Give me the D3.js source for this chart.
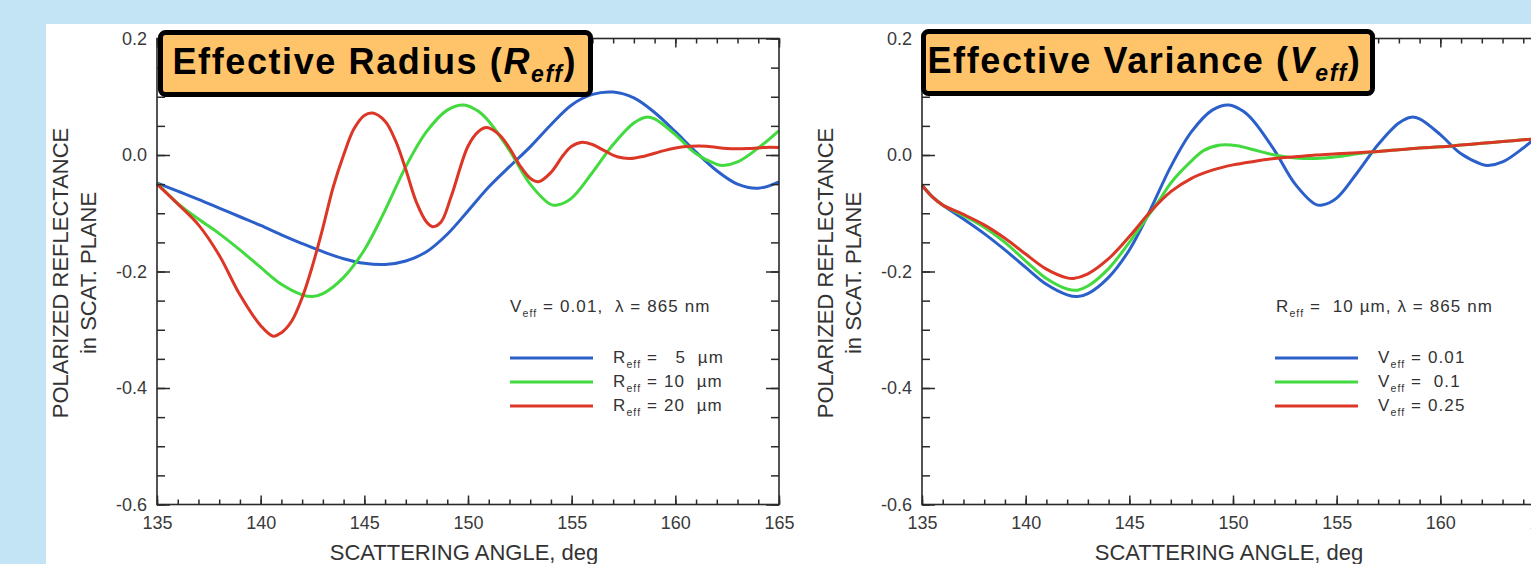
<!DOCTYPE html>
<html>
<head>
<meta charset="utf-8">
<script src="https://cdn.jsdelivr.net/npm/d3@7"></script>
<style>
  html, body { margin: 0; padding: 0; background: #c2e4f4; }
  svg { display: block; }
  text { font-family: "Liberation Sans", Arial, Helvetica, sans-serif; }
</style>
</head>
<body>
<svg id="chart" width="1531" height="564"></svg>
<script>
// ---- axis ticks ----
const angleTicks = [135, 140, 145, 150, 155, 160, 165];
const valueTicks = [0.2, 0.0, -0.2, -0.4, -0.6];
const valueTickLabels = ["0.2", "0.0", "-0.2", "-0.4", "-0.6"];

// ---- polarized reflectance vs scattering angle, V_eff = 0.01 ----
const reff5 = [[135,-0.048],[136,-0.062],[137,-0.076],[138,-0.091],[139,-0.106],[140,-0.121],[141,-0.137],[142,-0.152],[143,-0.166],[144,-0.178],[145,-0.186],[146,-0.188],[147,-0.182],[148,-0.166],[149,-0.136],[150,-0.096],[151,-0.055],[152,-0.02],[153,0.014],[154,0.052],[155,0.086],[156,0.104],[157,0.108],[158,0.098],[159,0.073],[160,0.04],[161,0.005],[162,-0.027],[163,-0.05],[164,-0.057],[165,-0.046]];
const reff10 = [[135,-0.048],[136,-0.083],[137,-0.11],[138,-0.135],[139,-0.163],[140,-0.193],[141,-0.222],[142,-0.24],[142.5,-0.243],[143,-0.238],[144,-0.21],[145,-0.163],[146,-0.095],[147,-0.02],[148,0.04],[149,0.077],[149.8,0.086],[150.5,0.075],[151,0.058],[152,0.008],[153,-0.05],[154,-0.085],[154.3,-0.086],[155,-0.074],[156,-0.03],[157,0.018],[158,0.055],[158.6,0.065],[159,0.062],[160,0.035],[161,0.002],[162,-0.016],[162.3,-0.018],[163,-0.012],[164,0.012],[165,0.042]];
const reff20 = [[135,-0.05],[136,-0.084],[137,-0.12],[138,-0.172],[139,-0.24],[140,-0.293],[140.6,-0.311],[141,-0.305],[141.5,-0.285],[142,-0.245],[142.5,-0.19],[143,-0.125],[143.5,-0.055],[144,0.0],[144.5,0.045],[145,0.068],[145.4,0.072],[146,0.058],[146.5,0.025],[147,-0.025],[147.5,-0.08],[148,-0.115],[148.3,-0.123],[148.7,-0.115],[149.2,-0.07],[150,0.015],[150.5,0.04],[150.9,0.047],[151.5,0.035],[152,0.012],[152.5,-0.018],[153,-0.04],[153.4,-0.046],[154,-0.03],[154.6,0.0],[155,0.015],[155.5,0.022],[156,0.018],[156.6,0.007],[157.2,-0.003],[157.8,-0.006],[158.5,-0.002],[159.5,0.008],[160.4,0.014],[161.5,0.015],[162.5,0.011],[163.5,0.011],[164.3,0.013],[165,0.013]];

// ---- polarized reflectance vs scattering angle, R_eff = 10 µm ----
const veff001 = [[135,-0.052],[135.5,-0.072],[136,-0.086],[137,-0.11],[138,-0.135],[139,-0.163],[140,-0.193],[141,-0.222],[142,-0.24],[142.5,-0.243],[143,-0.238],[144,-0.21],[145,-0.163],[146,-0.095],[147,-0.02],[148,0.04],[149,0.077],[149.8,0.086],[150.5,0.075],[151,0.058],[152,0.008],[153,-0.05],[154,-0.085],[154.3,-0.086],[155,-0.074],[156,-0.03],[157,0.018],[158,0.055],[158.6,0.065],[159,0.062],[160,0.035],[161,0.002],[162,-0.016],[162.3,-0.018],[163,-0.012],[164,0.012],[165,0.042]];
const veff01 = [[135,-0.052],[135.5,-0.072],[136,-0.086],[137,-0.104],[138,-0.124],[139,-0.15],[140,-0.182],[141,-0.212],[142,-0.23],[142.5,-0.232],[143,-0.225],[144,-0.195],[145,-0.15],[146,-0.1],[146.5,-0.075],[147,-0.048],[148,-0.01],[148.6,0.008],[149.4,0.017],[150.2,0.016],[151,0.009],[152,0.0],[153,-0.005],[154,-0.006],[155,-0.003],[156,0.002],[157,0.006],[158,0.009],[159,0.012],[160,0.014],[161,0.017],[162,0.02],[163,0.023],[164,0.026],[165,0.029]];
const veff025 = [[135,-0.052],[135.5,-0.072],[136,-0.086],[137,-0.102],[138,-0.12],[139,-0.143],[140,-0.17],[141,-0.196],[142,-0.211],[142.3,-0.212],[143,-0.204],[144,-0.178],[145,-0.14],[146,-0.098],[147,-0.063],[148,-0.04],[149,-0.026],[150,-0.017],[151,-0.011],[152,-0.006],[153,-0.003],[154,0.0],[155,0.002],[156,0.004],[157,0.006],[158,0.009],[159,0.012],[160,0.014],[161,0.017],[162,0.02],[163,0.023],[164,0.026],[165,0.029]];

// ---- legend texts ----
const radiusLabels = ["  5", "10", "20"];
const varianceLabels = ["0.01", " 0.1", "0.25"];
const seriesColors = ["#2b5fca", "#43da3f", "#db3626"];

const svg = d3.select("#chart");
svg.append("rect").attr("x", 46).attr("y", 24).attr("width", 1531 - 46).attr("height", 564 - 24).attr("fill", "#ffffff");

function richText(parent, x, y, parts, size, attrs = {}) {
  const t = parent.append("text").attr("x", x).attr("y", y).attr("font-size", size)
    .style("white-space", "pre");
  Object.entries(attrs).forEach(([k, v]) => t.attr(k, v));
  let shifted = 0;
  parts.forEach(p => {
    const s = t.append("tspan").text(p.t);
    const target = p.sub ? p.shift : 0;
    if (target !== shifted) { s.attr("dy", target - shifted); shifted = target; }
    if (p.size) s.attr("font-size", p.size);
    if (p.italic) s.attr("font-style", "italic");
  });
  return t;
}

function drawPanel(cfg) {
  const x = d3.scaleLinear().domain([135, 165]).range([cfg.left, cfg.left + 622]);
  const y = d3.scaleLinear().domain([-0.6, 0.2]).range([504.5, 38.5]);
  const g = svg.append("g");
  const ink = "#2a2a2a";

  // curves
  const line = d3.line().x(d => x(d[0])).y(d => y(d[1])).curve(d3.curveCatmullRom.alpha(0.5));
  cfg.series.forEach((s, i) => {
    g.append("path").datum(s).attr("d", line).attr("fill", "none")
      .attr("stroke", seriesColors[i]).attr("stroke-width", 3).attr("stroke-linejoin", "round");
  });

  // frame
  g.append("rect").attr("x", x(135)).attr("y", y(0.2)).attr("width", x(165) - x(135))
    .attr("height", y(-0.6) - y(0.2)).attr("fill", "none").attr("stroke", ink).attr("stroke-width", 1.6);

  const minorX = d3.range(135, 166, 1);
  const minorY = d3.range(-12, 5).map(k => k * 0.05);

  const styleAxis = sel => {
    sel.select(".domain").remove();
    sel.selectAll(".tick line").attr("stroke", ink).attr("stroke-width", 1.5);
    sel.selectAll(".tick text").attr("fill", "#3a3a3a").attr("font-size", 18)
      .attr("font-family", "'Liberation Sans', Arial, sans-serif");
  };

  // bottom axis
  g.append("g").attr("transform", `translate(0,${y(-0.6)})`)
    .call(d3.axisBottom(x).tickValues(minorX).tickSize(-5).tickFormat(""))
    .call(styleAxis);
  g.append("g").attr("transform", `translate(0,${y(-0.6)})`)
    .call(d3.axisBottom(x).tickValues(angleTicks).tickSize(-9).tickPadding(12).tickFormat(d => String(d)))
    .call(styleAxis);
  // top axis
  g.append("g").attr("transform", `translate(0,${y(0.2)})`)
    .call(d3.axisTop(x).tickValues(minorX).tickSize(-5).tickFormat(""))
    .call(styleAxis);
  g.append("g").attr("transform", `translate(0,${y(0.2)})`)
    .call(d3.axisTop(x).tickValues(angleTicks).tickSize(-9).tickFormat(""))
    .call(styleAxis);
  // left axis
  g.append("g").attr("transform", `translate(${x(135)},0)`)
    .call(d3.axisLeft(y).tickValues(minorY).tickSize(-8).tickFormat(""))
    .call(styleAxis);
  g.append("g").attr("transform", `translate(${x(135)},0)`)
    .call(d3.axisLeft(y).tickValues(valueTicks).tickSize(-13).tickPadding(10)
      .tickFormat((d, i) => valueTickLabels[i]))
    .call(styleAxis);
  // right axis
  g.append("g").attr("transform", `translate(${x(165)},0)`)
    .call(d3.axisRight(y).tickValues(minorY).tickSize(-8).tickFormat(""))
    .call(styleAxis);
  g.append("g").attr("transform", `translate(${x(165)},0)`)
    .call(d3.axisRight(y).tickValues(valueTicks).tickSize(-13).tickFormat(""))
    .call(styleAxis);

  // axis titles
  const midX = (x(135) + x(165)) / 2 - 4;
  g.append("text").attr("x", midX).attr("y", 560).attr("text-anchor", "middle")
    .attr("font-size", 22).attr("fill", "#333").text("SCATTERING ANGLE, deg");
  const yt = g.append("g").attr("transform", `translate(${x(135) - 89},273) rotate(-90)`);
  yt.append("text").attr("text-anchor", "middle").attr("font-size", 22).attr("fill", "#333")
    .text("POLARIZED REFLECTANCE");
  yt.append("text").attr("y", 28).attr("text-anchor", "middle").attr("font-size", 22).attr("fill", "#333")
    .text("in SCAT. PLANE");

  // legend
  const lg = g.append("g").attr("fill", "#333").attr("letter-spacing", 1.1);
  richText(lg, cfg.legend.headX, 312, cfg.legend.header, 17);
  cfg.legend.labels.forEach((lab, i) => {
    const ly = 358 + i * 24;
    lg.append("line").attr("x1", cfg.legend.lineX).attr("x2", cfg.legend.lineX + 83)
      .attr("y1", ly).attr("y2", ly).attr("stroke", seriesColors[i]).attr("stroke-width", 3);
    richText(lg, cfg.legend.labelX, ly + 5, lab, 17);
  });

  // title box
  const b = cfg.box;
  g.append("rect").attr("x", b.x).attr("y", b.y).attr("width", b.w).attr("height", b.h)
    .attr("rx", 5).attr("fill", "#ffc469").attr("stroke", "#000").attr("stroke-width", 5);
  richText(g, b.x + b.tx, b.y + 41, b.parts, 36,
    { "font-weight": 700, "font-family": "Inter, 'Open Sans', sans-serif", "fill": "#000",
      "letter-spacing": 1.6 });
}

const sub = (t, size) => ({ t, sub: true, shift: size * 0.28, size: size * 0.62 });

drawPanel({
  left: 157,
  series: [reff5, reff10, reff20],
  legend: {
    headX: 510, lineX: 510, labelX: 613,
    header: [{ t: "V" }, sub("eff", 17), { t: " = 0.01,  λ = 865 nm" }],
    labels: radiusLabels.map(r => [{ t: "R" }, sub("eff", 17), { t: " = " + r + "  µm" }])
  },
  box: {
    x: 160.5, y: 32.5, w: 430, h: 62, tx: 12,
    parts: [{ t: "Effective Radius (" }, { t: "R", italic: true },
            { t: "eff", sub: true, shift: 8, size: 23, italic: true }, { t: ")" }]
  }
});

drawPanel({
  left: 922,
  series: [veff001, veff01, veff025],
  legend: {
    headX: 1276, lineX: 1275, labelX: 1378,
    header: [{ t: "R" }, sub("eff", 17), { t: " =  10 µm, λ = 865 nm" }],
    labels: varianceLabels.map(v => [{ t: "V" }, sub("eff", 17), { t: " = " + v }])
  },
  box: {
    x: 923.5, y: 31.5, w: 449, h: 62, tx: 4,
    parts: [{ t: "Effective Variance (" }, { t: "V", italic: true },
            { t: "eff", sub: true, shift: 8, size: 23, italic: true }, { t: ")" }]
  }
});
</script>
</body>
</html>
